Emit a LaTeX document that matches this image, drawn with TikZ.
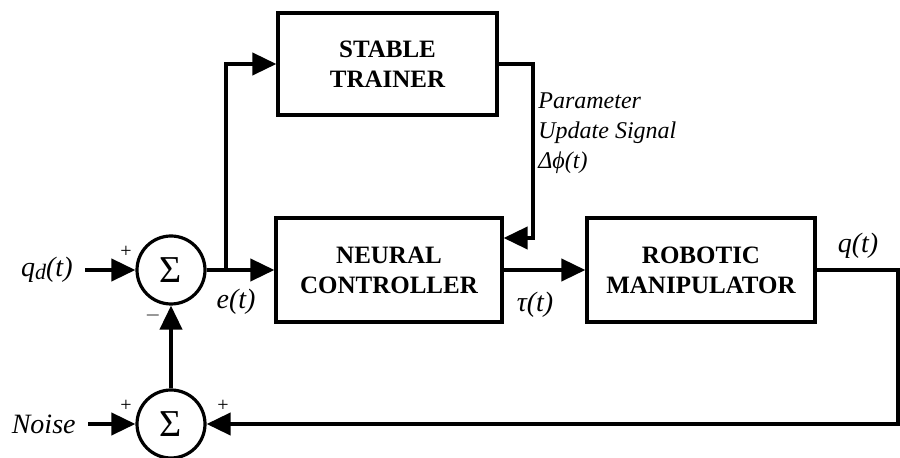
\documentclass[tikz,border=0pt]{standalone}
\usepackage{fontspec}
\setmainfont{Liberation Serif}
\usetikzlibrary{arrows.meta,calc}

\tikzset{
  block/.style={draw, line width=1.6pt, inner sep=0pt, align=center,
    font=\fontsize{12.5}{15}\selectfont\bfseries},
  summer/.style={draw, circle, line width=1.6pt, minimum size=34pt, inner sep=0pt,
    font=\fontsize{19}{19}\selectfont},
  signal/.style={inner sep=2pt, font=\fontsize{14}{16}\selectfont\itshape},
  sign/.style={inner sep=0pt, font=\fontsize{10}{10}\selectfont},
  wire/.style={line width=2pt},
  flow/.style={wire, -{Triangle[length=12pt,width=11pt]}}
}

\begin{document}
\begin{tikzpicture}[x=0.5pt,y=-0.5pt]
\useasboundingbox (0,0) rectangle (900,458);

% blocks
\node (trainer) [block, minimum width=109.5pt, minimum height=51pt] at (387.5,64) {STABLE\\TRAINER};
\node (neural) [block, minimum width=113pt, minimum height=52pt] at (389,270) {NEURAL\\CONTROLLER};
\node (robot) [block, minimum width=114pt, minimum height=52pt] at (701,270) {ROBOTIC\\MANIPULATOR};

% summing junctions
\node (sum1) [summer] at (171,270) {Σ};
\node (sum2) [summer] at (171,424) {Σ};

% inputs
\node (qd) [signal, inner xsep=6pt, anchor=east] at (85,270) {q\raisebox{-0.25ex}{\fontsize{11}{11}\selectfont d}(t)};
\node (noise) [signal, inner xsep=6pt, anchor=east] at (88,424) {Noise};

\coordinate (split) at (226,270);
\coordinate (upd) at (533,238);
\coordinate (back) at (898,270);

% connectors
\draw [flow] (qd) -- (sum1);
\draw [flow] (noise) -- (sum2);
\draw [flow] (sum2) -- (sum1);
\draw [wire] (sum1) -- (split);
\draw [flow] (split) -- (neural);
\draw [flow] (split) |- (trainer.west);
\draw [flow] (trainer.east) -| (upd) -- (upd -| neural.east);
\draw [flow] (neural) -- (robot);
\draw [flow] (robot.east) -- (back) |- (sum2.east);

% signs
\node [sign] at ($(sum1)+(-45,-18)$) {+};
\node [sign] at ($(sum1)+(-18,46)$) {$-$};
\node [sign] at ($(sum2)+(-45,-18)$) {+};
\node [sign] at ($(sum2)+(52,-18)$) {+};

% signal labels
\node (err) [signal] at (236,302) {e(t)};
\node (tau) [signal] at (535,305) {τ(t)};
\node (q) [signal] at (858,246) {q(t)};
\node (param) [signal, anchor=west, align=left, font=\fontsize{12}{15}\selectfont\itshape] at (534,133) {Parameter\\Update Signal\\Δϕ(t)};
\end{tikzpicture}
\end{document}
